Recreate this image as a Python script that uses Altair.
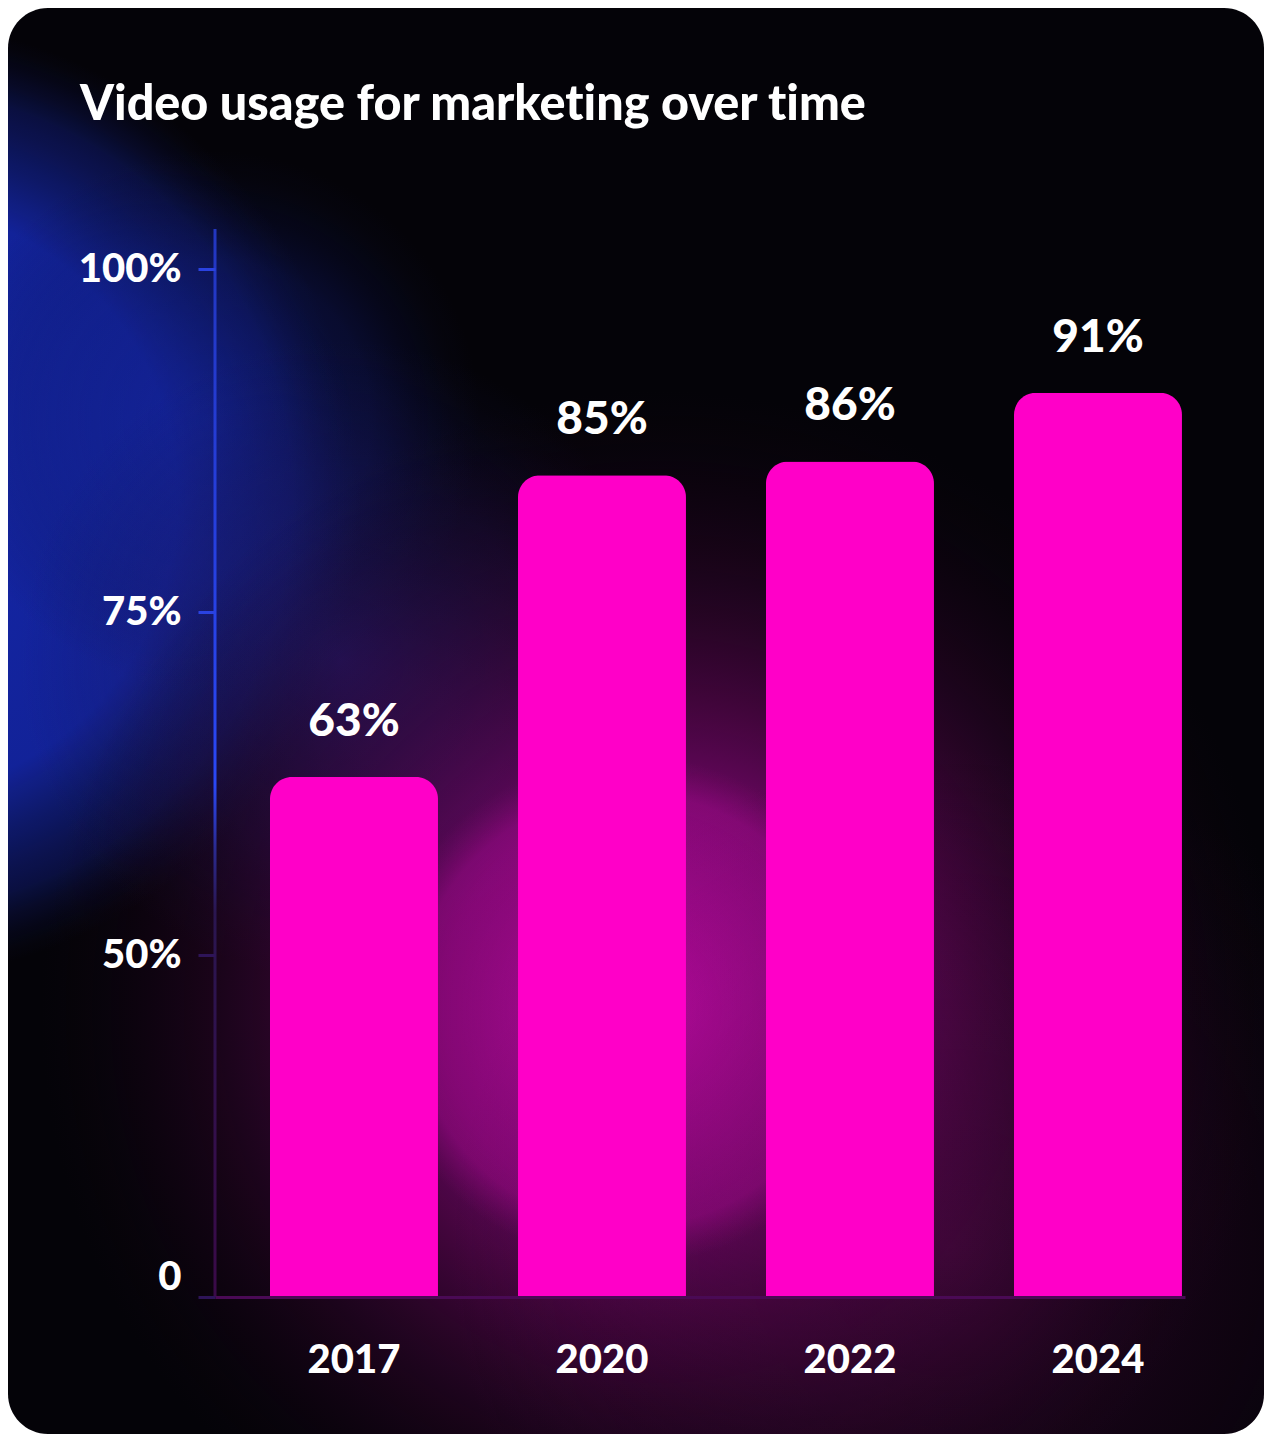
import altair as alt
import pandas as pd

# ---- data ----
years = ["2017", "2020", "2022", "2024"]
shares = [63, 85, 86, 91]
value_labels = ["63%", "85%", "86%", "91%"]
y_tick_values = [0, 50, 75, 100]
# zero-width non-joiners keep Lato from forming the "ti" ligature
title_text = "Video usage for market\u200cing over t\u200cime"

df = pd.DataFrame({"year": years, "share": shares, "label": value_labels})

# ---- layout (plot area placed like the reference) ----
W, H = 970, 1068
PAD = {"left": 207, "top": 221, "right": 79, "bottom": 137}
CARD_W = PAD["left"] + W + PAD["right"]   # 1256
CARD_H = PAD["top"] + H + PAD["bottom"]   # 1426
FONT = "Lato"
WEIGHT = 900
BAR = "#ff00c8"

x_enc = alt.X(
    "year:N",
    sort=years,
    title=None,
    scale=alt.Scale(paddingInner=0.32258, paddingOuter=0.11694, align=0.948),
    axis=alt.Axis(
        labelAngle=0, labelFont=FONT, labelFontSize=40, labelFontWeight=WEIGHT,
        labelColor="white", labelPadding=43, ticks=False, tickSize=0,
        domain=True, domainColor="#4a0a55", domainWidth=3, zindex=1,
    ),
)
y_scale = alt.Scale(domain=[0, 50, 102.94], range=[H, 726.4, 0], nice=False, zero=True)
y_enc = alt.Y(
    "share:Q",
    title=None,
    scale=y_scale,
    axis=alt.Axis(
        values=y_tick_values,
        labelExpr="datum.value == 0 ? '0' : datum.value + '%'",
        labelFont=FONT, labelFontSize=40, labelFontWeight=WEIGHT, labelColor="white",
        labelPadding=17, tickSize=17, tickWidth=3,
        tickColor={"condition": {"test": "datum.value >= 75", "value": "#2a42e0"}, "value": "#2e1458"},
        labelBaseline={"condition": {"test": "datum.value == 0", "value": "bottom"}, "value": "middle"},
        domain=False, grid=False, zindex=1,
    ),
)

one = pd.DataFrame({"a": [0]})


def card_rect(fill):
    return alt.Chart(one).mark_rect(fill=fill, cornerRadius=40).encode(
        x=alt.value(-PAD["left"]), x2=alt.value(W + PAD["right"]),
        y=alt.value(-PAD["top"]), y2=alt.value(H + PAD["bottom"]),
    )


def glow(px, py, R, stops):
    # radial glow given in page pixels, painted inside the rounded card
    side = max(CARD_W, CARD_H)
    ox = 8 + (CARD_W - side) / 2
    oy = 8 + (CARD_H - side) / 2
    gx, gy, r = (px - ox) / side, (py - oy) / side, R / side
    return card_rect({"gradient": "radial", "x1": gx, "y1": gy, "r1": 0,
                      "x2": gx, "y2": gy, "r2": r,
                      "stops": [{"offset": o, "color": c} for o, c in stops]})


card = card_rect("#040308")

blueA = glow(-120, 500, 480, [
    (0, "rgba(22,40,175,0.95)"), (0.62, "rgba(20,38,168,0.9)"),
    (0.86, "rgba(16,28,120,0.5)"), (1, "rgba(10,15,60,0)")])
blueC = glow(210, 420, 270, [
    (0, "rgba(20,34,150,0.55)"), (0.6, "rgba(16,28,120,0.35)"), (1, "rgba(10,15,60,0)")])
blueB = glow(340, 660, 320, [
    (0, "rgba(40,34,150,0.6)"), (0.6, "rgba(30,26,110,0.3)"), (1, "rgba(20,20,80,0)")])
magM1 = glow(660, 1010, 620, [
    (0, "rgba(175,10,155,0.9)"), (0.35, "rgba(140,8,125,0.72)"),
    (0.6, "rgba(85,6,75,0.5)"), (0.85, "rgba(40,4,36,0.22)"), (1, "rgba(20,2,18,0)")])
magM3 = glow(950, 1250, 500, [
    (0, "rgba(80,8,70,0.5)"), (1, "rgba(40,4,36,0)")])
magM2 = glow(630, 1010, 255, [
    (0, "rgba(200,10,170,0.5)"), (0.85, "rgba(180,10,155,0.35)"), (1, "rgba(150,10,130,0)")])

axis_line = alt.Chart(one).mark_rect(
    fill={"gradient": "linear", "x1": 0, "y1": 0, "x2": 0, "y2": 1,
          "stops": [{"offset": 0, "color": "#2236c0"}, {"offset": 0.3, "color": "#2640e0"},
                    {"offset": 0.52, "color": "#2a48f5"}, {"offset": 0.58, "color": "#2a2a90"},
                    {"offset": 0.64, "color": "#2a1650"}, {"offset": 1, "color": "#3a0a48"}]},
).encode(x=alt.value(-1.5), x2=alt.value(1.5), y=alt.value(0), y2=alt.value(H))

base = alt.Chart(df).encode(x=x_enc, y=y_enc)
bars = base.mark_bar(color=BAR, cornerRadiusTopLeft=22, cornerRadiusTopRight=22)
texts = base.mark_text(
    font=FONT, fontSize=46, fontWeight=WEIGHT, color="white",
    baseline="alphabetic", dy=-41,
).encode(text="label:N")

title = alt.Chart(pd.DataFrame({"t": [title_text]})).mark_text(
    font=FONT, fontSize=48.5, fontWeight=WEIGHT, color="white",
    align="left", baseline="alphabetic",
).encode(text="t:N", x=alt.value(80 - 215), y=alt.value(120 - 229))

chart = alt.layer(card, blueA, blueC, blueB, magM1, magM3, magM2, axis_line, bars, texts, title).properties(
    width=W, height=H,
    autosize=alt.AutoSizeParams(type="none"),
    padding=PAD,
    background="white",
).configure_view(stroke=None, fill=None)

chart.save("out.html", embed_options={"renderer": "svg", "actions": False})
